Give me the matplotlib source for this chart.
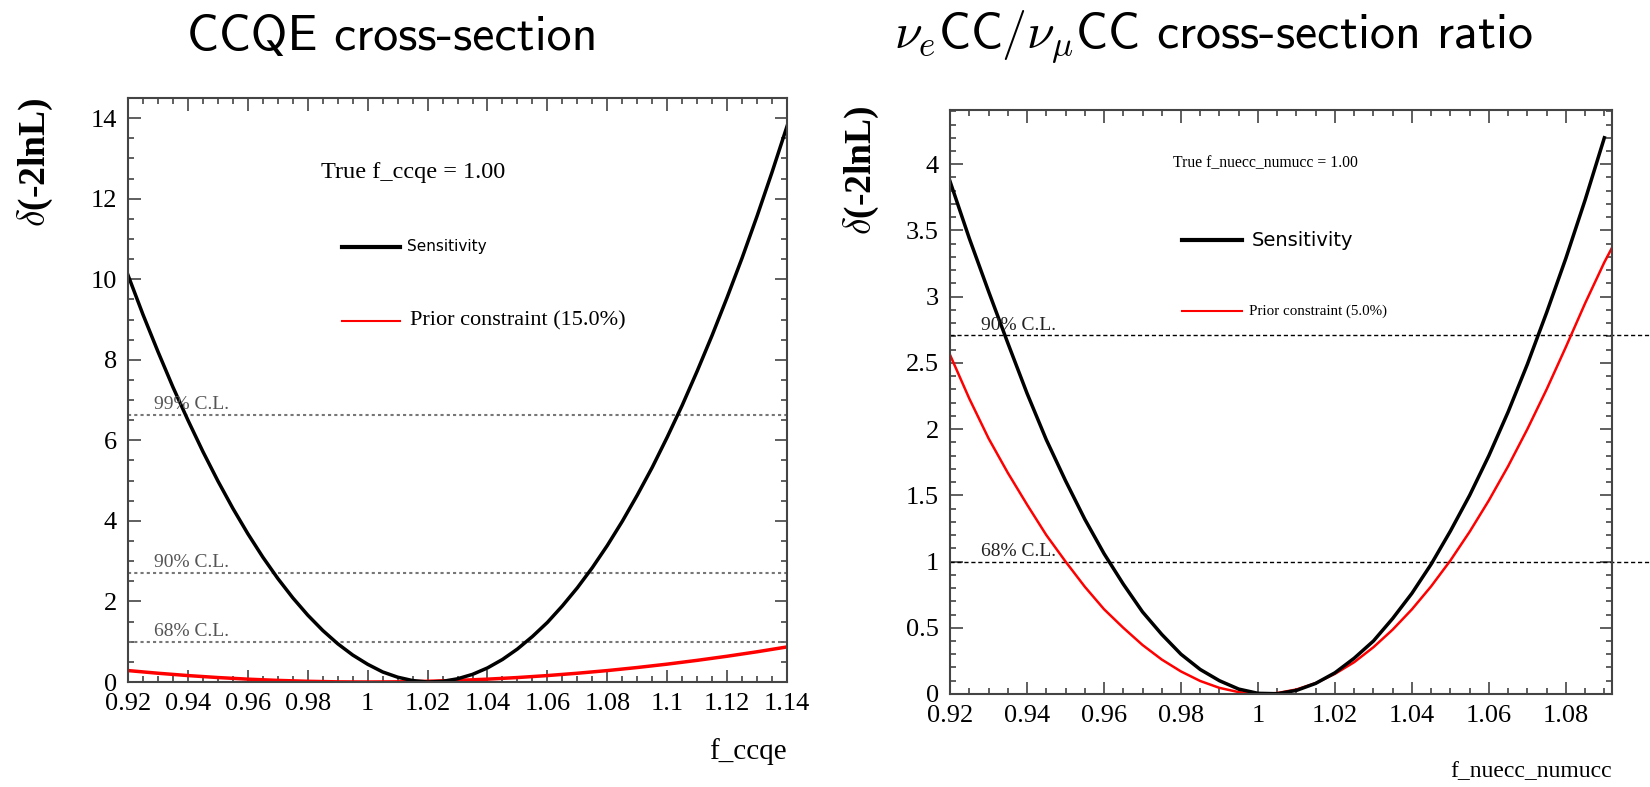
import matplotlib
matplotlib.use('Agg')
import matplotlib.pyplot as plt
from matplotlib.ticker import MultipleLocator

plt.rcParams['mathtext.fontset'] = 'cm'

# CCQE cross-section scan (left)
ccqe_x = [0.920, 0.925, 0.930, 0.935, 0.940, 0.945, 0.950, 0.955, 0.960, 0.965,
          0.970, 0.975, 0.980, 0.985, 0.990, 0.995, 1.000, 1.005, 1.010, 1.015,
          1.020, 1.025, 1.030, 1.035, 1.040, 1.045, 1.050, 1.055, 1.060, 1.065,
          1.070, 1.075, 1.080, 1.085, 1.090, 1.095, 1.100, 1.105, 1.110, 1.115,
          1.120, 1.125, 1.130, 1.135, 1.140]
ccqe_sens = [10.10, 9.12, 8.20, 7.32, 6.50, 5.72, 4.99, 4.31, 3.68, 3.10,
             2.57, 2.09, 1.66, 1.28, 0.95, 0.67, 0.44, 0.25, 0.12, 0.036,
             0.00, 0.016, 0.08, 0.19, 0.35, 0.56, 0.82, 1.13, 1.48, 1.89,
             2.34, 2.84, 3.39, 3.99, 4.64, 5.33, 6.08, 6.87, 7.72, 8.61,
             9.55, 10.53, 11.57, 12.66, 13.80]
ccqe_prior_x = [0.92, 0.93, 0.94, 0.95, 0.96, 0.97, 0.98, 0.99, 1.00, 1.01, 1.02, 1.03,
                1.04, 1.05, 1.06, 1.07, 1.08, 1.09, 1.10, 1.11, 1.12, 1.13, 1.14]
ccqe_prior = [0.284, 0.218, 0.16, 0.111, 0.071, 0.04, 0.018, 0.004, 0.0, 0.004, 0.018, 0.04,
              0.071, 0.111, 0.16, 0.218, 0.284, 0.36, 0.444, 0.538, 0.64, 0.751, 0.871]
ccqe_cl = [6.63, 2.71, 1.0]
ccqe_cl_names = ['99% C.L.', '90% C.L.', '68% C.L.']

# nue/numu CC ratio scan (right)
ratio_x = [0.920, 0.925, 0.930, 0.935, 0.940, 0.945, 0.950, 0.955, 0.960, 0.965,
           0.970, 0.975, 0.980, 0.985, 0.990, 0.995, 1.000, 1.005, 1.010, 1.015,
           1.020, 1.025, 1.030, 1.035, 1.040, 1.045, 1.050, 1.055, 1.060, 1.065,
           1.070, 1.075, 1.080, 1.085, 1.090]
ratio_sens = [3.87, 3.44, 3.04, 2.65, 2.27, 1.92, 1.61, 1.32, 1.06, 0.83,
              0.62, 0.45, 0.30, 0.185, 0.10, 0.037, 0.005, 0.002, 0.027, 0.08,
              0.16, 0.27, 0.40, 0.57, 0.76, 0.98, 1.23, 1.50, 1.80, 2.13,
              2.49, 2.88, 3.29, 3.73, 4.20]
ratio_prior_x = ratio_x + [1.092]
ratio_prior = [2.56, 2.23, 1.93, 1.67, 1.43, 1.20, 1.00, 0.81, 0.64, 0.50,
               0.37, 0.26, 0.17, 0.098, 0.046, 0.014, 0.0004, 0.0067, 0.034, 0.082,
               0.152, 0.24, 0.353, 0.486, 0.639, 0.813, 1.008, 1.225, 1.462, 1.72,
               2.00, 2.30, 2.62, 2.95, 3.26, 3.37]
ratio_cl = [2.71, 1.0]
ratio_cl_names = ['90% C.L.', '68% C.L.']

serif = 'Liberation Serif'

fig = plt.figure(figsize=(16.5, 7.87), dpi=100)
ax1 = fig.add_axes([0.0776, 0.1334, 0.3994, 0.7421])
ax2 = fig.add_axes([0.5758, 0.1182, 0.4012, 0.7421])


def style_axes(ax, xmaj, xmin, ymaj, ymin):
    ax.xaxis.set_major_locator(MultipleLocator(xmaj))
    ax.xaxis.set_minor_locator(MultipleLocator(xmin))
    ax.yaxis.set_major_locator(MultipleLocator(ymaj))
    ax.yaxis.set_minor_locator(MultipleLocator(ymin))
    ax.tick_params(which='both', direction='in', top=True, right=True,
                   color='#444444', width=1.2)
    ax.tick_params(which='major', length=9, labelsize=19, pad=8)
    ax.tick_params(which='minor', length=4.5)
    for lab in ax.get_xticklabels() + ax.get_yticklabels():
        lab.set_family(serif)
    for sp in ax.spines.values():
        sp.set_color('#444444')
        sp.set_linewidth(1.5)
    ax.xaxis.set_major_formatter(plt.FuncFormatter(lambda v, p: ('%g' % round(v, 3))))
    ax.yaxis.set_major_formatter(plt.FuncFormatter(lambda v, p: ('%g' % round(v, 3))))


# ---- left panel
for lvl, name in zip(ccqe_cl, ccqe_cl_names):
    ax1.axhline(lvl, color='#777777', ls=(0, (1.5, 1.5)), lw=1.5)
    ax1.text(0.9285, lvl + 0.05, name, family=serif, fontsize=14, color='#555555',
             va='bottom')
ax1.plot(ccqe_prior_x, ccqe_prior, color='red', lw=2.5)
ax1.plot(ccqe_x, ccqe_sens, color='black', lw=2.5)
ax1.set_xlim(0.92, 1.14)
ax1.set_ylim(0, 14.5)
style_axes(ax1, 0.02, 0.005, 2, 0.5)

ax1.text(0.293, 0.873, 'True f_ccqe = 1.00', transform=ax1.transAxes,
         family=serif, fontsize=17.5, va='center')
ax1.plot([0.325, 0.413], [0.745, 0.745], transform=ax1.transAxes, color='black', lw=3)
ax1.text(0.423, 0.745, 'Sensitivity', transform=ax1.transAxes,
         family='DejaVu Sans', fontsize=11, va='center')
ax1.plot([0.325, 0.413], [0.618, 0.618], transform=ax1.transAxes, color='red', lw=1.5)
ax1.text(0.428, 0.618, 'Prior constraint (15.0%)', transform=ax1.transAxes,
         family=serif, fontsize=16, va='center')

# ---- right panel
for lvl, name in zip(ratio_cl, ratio_cl_names):
    ax2.axhline(lvl, xmin=0, xmax=1.06, color='black', ls=(0, (3, 2)), lw=1.0,
                clip_on=False)
    ax2.text(0.928, lvl + 0.01, name, family=serif, fontsize=14, color='#222222',
             va='bottom')
ax2.plot(ratio_prior_x, ratio_prior, color='red', lw=1.8)
ax2.plot(ratio_x, ratio_sens, color='black', lw=2.5)
ax2.set_xlim(0.92, 1.092)
ax2.set_ylim(0, 4.41)
style_axes(ax2, 0.02, 0.005, 0.5, 0.1)

ax2.text(0.337, 0.909, 'True f_nuecc_numucc = 1.00', transform=ax2.transAxes,
         family=serif, fontsize=11.3, va='center')
ax2.plot([0.350, 0.441], [0.777, 0.777], transform=ax2.transAxes, color='black', lw=3)
ax2.text(0.456, 0.777, 'Sensitivity', transform=ax2.transAxes,
         family='DejaVu Sans', fontsize=14, va='center')
ax2.plot([0.350, 0.441], [0.656, 0.656], transform=ax2.transAxes, color='red', lw=1.5)
ax2.text(0.452, 0.656, 'Prior constraint (5.0%)', transform=ax2.transAxes,
         family=serif, fontsize=10.8, va='center')

# axis titles (ROOT style)
fig.text(35 / 1650, 1 - 97 / 787, r'$\delta$(-2lnL)', rotation=90, ha='center', va='top',
         family=serif, fontsize=27, fontweight='bold')
fig.text(861 / 1650, 1 - 105 / 787, r'$\delta$(-2lnL)', rotation=90, ha='center', va='top',
         family=serif, fontsize=27, fontweight='bold')
fig.text(787 / 1650, 1 - 752 / 787, 'f_ccqe', ha='right', va='center',
         family=serif, fontsize=21)
fig.text(1612 / 1650, 1 - 772 / 787, 'f_nuecc_numucc', ha='right', va='center',
         family=serif, fontsize=17)

# slide titles
fig.text(392 / 1650, 1 - 37 / 787, 'CCQE cross-section', ha='center', va='center',
         family='cmss10', fontsize=36)
fig.text(1213 / 1650, 1 - 37 / 787, r'$\nu_e$CC/$\nu_\mu$CC cross-section ratio',
         ha='center', va='center', family='cmss10', fontsize=36)

fig.savefig('out.png', dpi=100)
